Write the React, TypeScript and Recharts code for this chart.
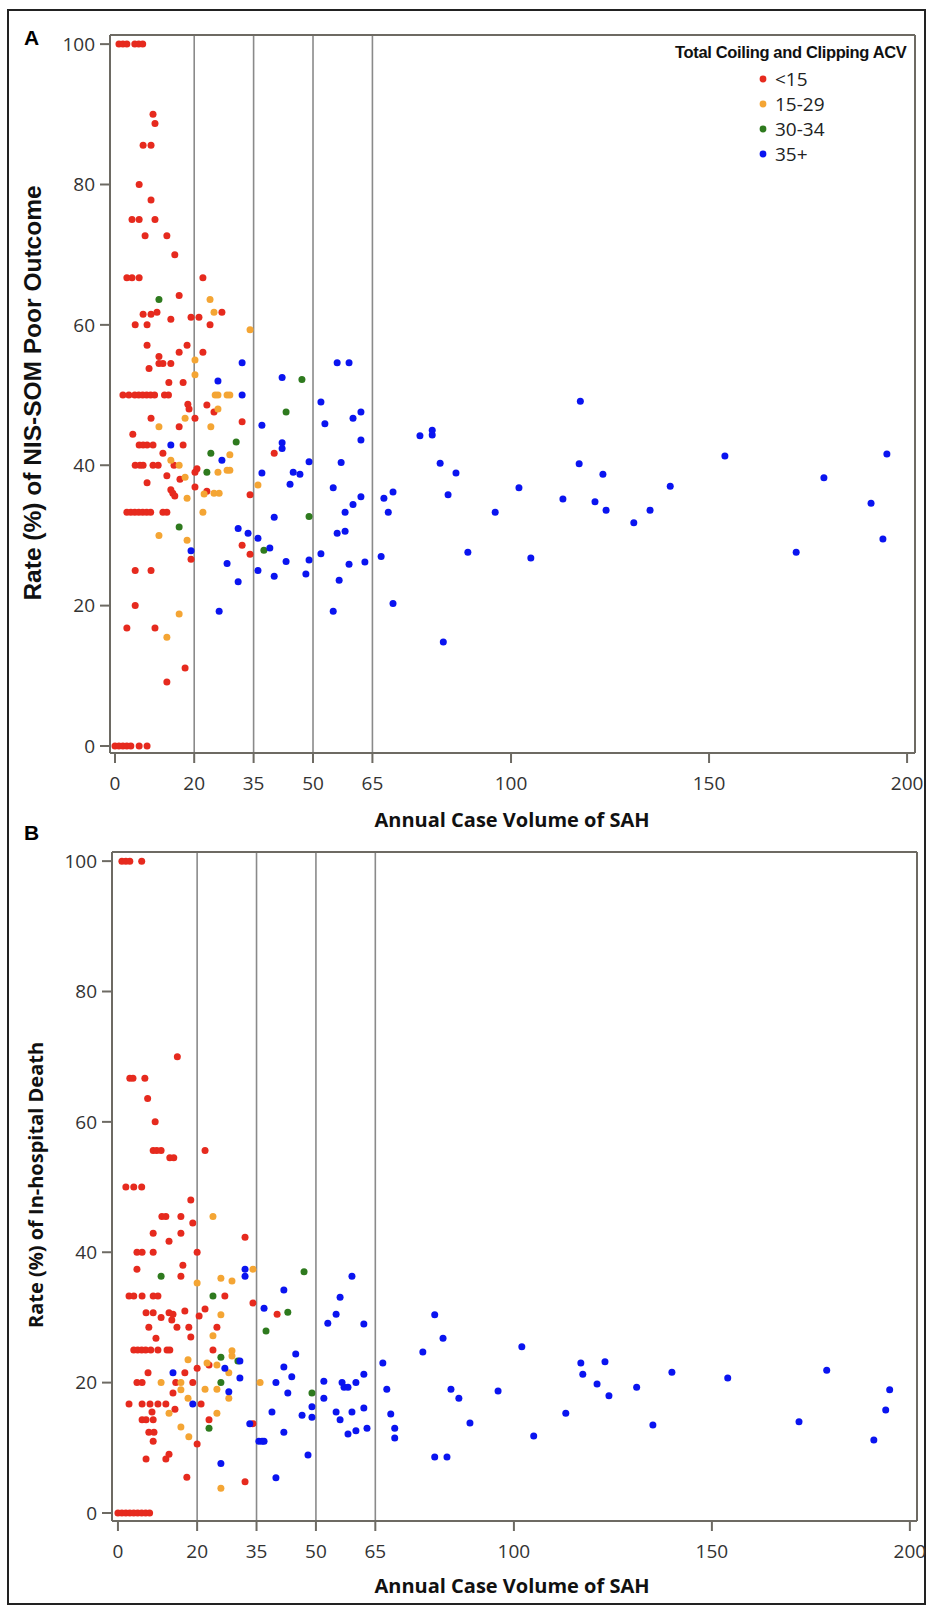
import { ScatterChart, Scatter, XAxis, YAxis, ReferenceLine } from 'recharts';

type Pt = [number, number];

const groupLabels = ['<15', '15-29', '30-34', '35+'];
const groupColors = ['#e62a1e', '#f4a534', '#2e7a1e', '#0a14f0'];
const xTicks = [0, 20, 35, 50, 65, 100, 150, 200];
const yTicks = [0, 20, 40, 60, 80, 100];
const cutoffs = [20, 35, 50, 65];

// Panel A: rate (%) of NIS-SOM poor outcome
const poorLt15: Pt[] = [
  [1, 100], [2, 100], [3, 100], [5, 100], [6, 100], [7, 100],
  [9.6, 90], [10.1, 88.7], [7.1, 85.6], [9.1, 85.6], [6.1, 80], [9.1, 77.8], [4.3, 75], [6.1, 75], [10.1, 75],
  [7.6, 72.7], [13.1, 72.7], [15.1, 70], [3, 66.7], [4.3, 66.7], [6.1, 66.7], [22.2, 66.7], [16.2, 64.2],
  [27, 61.8], [7.1, 61.5], [9.1, 61.5], [10.6, 61.8], [14.1, 60.8], [19.2, 61.1], [21.2, 61.1], [5.1, 60], [8.1, 60], [24, 60],
  [8.1, 57.1], [16.2, 56.1], [18.2, 57.1], [22.2, 56.1], [11.1, 55.5], [11.1, 54.5], [12.1, 54.5], [14.1, 54.5], [8.6, 53.8],
  [13.6, 51.8], [17.2, 51.8],
  [2, 50], [3.5, 50], [5, 50], [6, 50], [7, 50], [8, 50], [9, 50], [10, 50], [12.5, 50], [13.5, 50],
  [18.4, 48.7], [18.7, 48], [23.2, 48.6], [25, 47.6], [9.1, 46.7], [20.2, 46.7], [16.2, 45.5], [32.1, 46.2], [4.5, 44.4],
  [6.1, 42.9], [7.1, 42.9], [8.1, 42.9], [9.6, 42.9], [17.2, 42.9], [12.1, 41.7], [40.2, 41.7],
  [5.1, 40], [6.3, 40], [7.1, 40], [9.6, 40], [10.9, 40], [14.9, 40], [20.2, 39], [20.7, 39.5], [13.1, 38.5], [8.1, 37.5],
  [16.4, 38], [14.1, 36.5], [14.6, 36], [15.1, 35.6], [20.2, 36.9], [23.2, 36.3], [34.1, 35.8],
  [3, 33.3], [4, 33.3], [5, 33.3], [6, 33.3], [7, 33.3], [8, 33.3], [9, 33.3], [12.1, 33.3], [13.1, 33.3],
  [32.1, 28.6], [34.1, 27.3], [19.2, 26.6], [5.1, 25], [9.1, 25], [5.1, 20], [3, 16.8], [10.1, 16.8], [17.7, 11.1], [13.1, 9.1],
  [0, 0], [1, 0], [2, 0], [3, 0], [4, 0], [6.1, 0], [8.1, 0],
];
const poor15to29: Pt[] = [
  [24, 63.6], [25, 61.8], [34.1, 59.3], [20.2, 55], [20.2, 52.9], [25.3, 50], [26, 50], [28.3, 50], [29, 50], [26, 48],
  [17.7, 46.7], [11.1, 45.5], [24.2, 45.5], [29, 41.5], [14.1, 40.7], [16.2, 40], [26, 39], [28.3, 39.3], [29, 39.3],
  [17.7, 38.3], [36.1, 37.2], [22.5, 35.9], [25, 36], [26.3, 36], [18.2, 35.3], [22.2, 33.3], [11.1, 30], [18.2, 29.3],
  [16.2, 18.8], [13.1, 15.5],
];
const poor30to34: Pt[] = [
  [11.1, 63.6], [47.2, 52.2], [43.2, 47.6], [30.6, 43.3], [24.2, 41.7], [23.2, 39], [16.2, 31.2], [37.6, 27.9], [49, 32.7],
];
const poor35plus: Pt[] = [
  [32.1, 54.6], [56.1, 54.6], [59.1, 54.6], [26, 52], [42.2, 52.5], [32.1, 50], [52, 49], [62.1, 47.6], [60.1, 46.7],
  [37.1, 45.7], [53, 45.9], [14.1, 42.9], [42.2, 43.2], [42.2, 42.4], [62.1, 43.6], [27, 40.7], [49, 40.5], [57.1, 40.4],
  [37.1, 38.9], [45, 39], [46.7, 38.7], [44.2, 37.3], [55.1, 36.8], [62.1, 35.5], [60.1, 34.4], [58.1, 33.3], [67.9, 35.3],
  [70.2, 36.2], [69, 33.3], [40.2, 32.6], [31.1, 31], [33.6, 30.3], [36.1, 29.6], [56.1, 30.3], [58.1, 30.6], [19.2, 27.8],
  [39.1, 28.2], [52, 27.4], [28.3, 26], [36.1, 25], [40.2, 24.2], [43.2, 26.3], [48.2, 24.5], [49, 26.5], [56.6, 23.6],
  [59.1, 25.9], [63.1, 26.2], [67.2, 27], [31.1, 23.4], [26.3, 19.2], [55.1, 19.2], [70.2, 20.3],
  [77, 44.2], [80.1, 45], [80.1, 44.3], [82.1, 40.3], [84.1, 35.8], [86.1, 38.9], [82.9, 14.8], [89.1, 27.6], [96, 33.3],
  [102, 36.8], [105, 26.8], [113.1, 35.2], [117.5, 49.1], [117.2, 40.2], [121.2, 34.8], [123.2, 38.7], [124, 33.6],
  [131, 31.8], [135.1, 33.6], [140.2, 37], [154, 41.3], [172, 27.6], [179, 38.2], [190.9, 34.6], [193.9, 29.5], [194.9, 41.6],
];

// Panel B: rate (%) of in-hospital death
const deathLt15: Pt[] = [
  [1, 100], [2, 100], [3, 100], [6, 100],
  [15, 70], [3, 66.7], [3.8, 66.7], [6.8, 66.7], [7.5, 63.6], [9.4, 60], [8.9, 55.6], [9.8, 55.6], [10.9, 55.6],
  [13.1, 54.5], [14.1, 54.5], [22, 55.6], [2, 50], [4, 50], [6, 50], [18.4, 48], [11.1, 45.5], [12.1, 45.5], [15.9, 45.5],
  [18.9, 44.5], [8.9, 42.9], [15.9, 42.9], [12.9, 41.7], [32.1, 42.3], [4.8, 40], [6.1, 40], [8.9, 40], [20, 40],
  [4.8, 37.4], [16.4, 38], [15.9, 36.3],
  [2.8, 33.3], [4, 33.3], [6.1, 33.3], [8.9, 33.3], [10.1, 33.3], [27, 33.3], [34.1, 32.2], [40.2, 30.5], [7.1, 30.7],
  [8.9, 30.7], [12.9, 30.7], [13.9, 30.5], [13.6, 29.6], [10.9, 30], [16.9, 31], [20.5, 30.2], [22, 31.3], [7.8, 28.5],
  [14.9, 28.5], [17.9, 28.5], [25, 28.5], [9.6, 26.8], [18.4, 27],
  [4, 25], [5, 25], [6, 25], [7, 25], [8.3, 25], [10.1, 25], [12.4, 25], [13.1, 25], [24, 25], [23, 22.7], [7.6, 21.5],
  [16.9, 21.5], [20, 22.2], [4.8, 20], [6.1, 20], [14.6, 20], [18.9, 20], [13.9, 18.4],
  [2.8, 16.7], [6.1, 16.7], [8.1, 16.7], [10.1, 16.7], [12.1, 16.7], [21, 16.7], [8.6, 15.5], [14.4, 15.9], [6.1, 14.3],
  [7.1, 14.3], [8.9, 14.3], [23, 14.3], [7.8, 12.4], [9.1, 12.4], [8.9, 11], [34.1, 13.7], [20, 10.6], [7.1, 8.3],
  [12.1, 8.3], [12.9, 9], [17.4, 5.5], [32.1, 4.8],
  [0, 0], [1, 0], [2, 0], [3, 0], [4, 0], [5, 0], [6, 0], [7, 0], [8, 0],
];
const death15to29: Pt[] = [
  [24, 45.5], [34.1, 37.4], [20, 35.3], [26, 36], [28.8, 35.6], [26, 30.4], [24, 27.2], [28.8, 24.9], [28.8, 24.1],
  [17.7, 23.5], [22.5, 23], [25, 22.7], [28, 21.5], [10.9, 20], [15.9, 20], [15.9, 18.9], [22, 19], [25, 19], [28, 17.6],
  [35.9, 20], [17.7, 17.6], [12.9, 15.3], [25, 15.3], [15.9, 13.2], [17.9, 11.7], [26, 3.8],
];
const death30to34: Pt[] = [
  [10.9, 36.3], [47, 37], [24, 33.3], [42.9, 30.8], [37.4, 27.9], [26, 23.9], [30.3, 23.3], [26, 20], [49, 18.4], [23, 13],
];
const death35plus: Pt[] = [
  [32.1, 37.4], [32.1, 36.3], [59.1, 36.3], [41.9, 34.2], [56.1, 33.1], [36.9, 31.4], [55.1, 30.5], [53, 29.1], [62.1, 29],
  [27, 22.2], [30.8, 23.3], [30.8, 20.7], [13.9, 21.5], [28, 18.6], [39.9, 20], [42.9, 18.4], [41.9, 22.4], [43.9, 20.9],
  [44.9, 24.4], [52, 20.2], [52, 17.6], [56.6, 20], [57.1, 19.3], [58.1, 19.3], [60.1, 20], [62.1, 21.3], [66.9, 23],
  [67.9, 19], [68.9, 15.2], [69.9, 13], [69.9, 11.5], [18.9, 16.7], [33.3, 13.7], [35.6, 11], [36.4, 11], [36.9, 11],
  [38.9, 15.5], [41.9, 12.4], [46.5, 15], [49, 16.3], [49, 14.7], [48, 8.9], [55.1, 15.5], [56.1, 14.3], [59.1, 15.5],
  [62.1, 16.1], [58.1, 12.1], [60.1, 12.6], [62.9, 13], [26, 7.6], [39.9, 5.4],
  [77, 24.7], [80, 30.4], [82.1, 26.8], [84.1, 19], [86.1, 17.6], [80, 8.6], [83.1, 8.6], [88.9, 13.8], [96, 18.7],
  [102, 25.5], [105, 11.8], [113.1, 15.3], [116.9, 23], [117.4, 21.3], [121, 19.8], [123, 23.2], [124, 18], [131, 19.3],
  [135.1, 13.5], [139.9, 21.6], [154, 20.7], [172, 14], [179, 21.9], [190.9, 11.2], [193.9, 15.8], [194.9, 18.9],
];

const FRAME = '#6d6a63';
const tickFont = { fill: '#333', fontSize: 19, fontFamily: '"Open Sans", sans-serif' };

type PanelProps = {
  series: Pt[][];
  width: number;
  height: number;
  margin: { top: number; right: number; bottom: number; left: number };
  xDomain: [number, number];
  yDomain: [number, number];
};

function Panel({ series, width, height, margin, xDomain, yDomain }: PanelProps) {
  return (
    <ScatterChart width={width} height={height} margin={margin}>
      <XAxis
        type="number"
        dataKey="x"
        domain={xDomain}
        allowDataOverflow
        ticks={xTicks}
        interval={0}
        height={40}
        tickSize={10}
        tickMargin={14}
        stroke={FRAME}
        strokeWidth={2}
        tick={tickFont}
      />
      <YAxis
        type="number"
        dataKey="y"
        domain={yDomain}
        allowDataOverflow
        ticks={yTicks}
        interval={0}
        width={60}
        tickSize={10}
        tickMargin={5}
        stroke={FRAME}
        strokeWidth={2}
        tick={tickFont}
      />
      {cutoffs.map((c) => (
        <ReferenceLine key={c} x={c} stroke="#8a8a8a" strokeWidth={1.6} />
      ))}
      <ReferenceLine x={xDomain[1]} stroke={FRAME} strokeWidth={2} />
      <ReferenceLine y={yDomain[1]} stroke={FRAME} strokeWidth={2} />
      {series.map((pts, i) => (
        <Scatter
          key={groupLabels[i]}
          name={groupLabels[i]}
          data={pts.map(([x, y]) => ({ x, y }))}
          isAnimationActive={false}
          shape={(p: any) => <circle cx={p.cx} cy={p.cy} r={3.5} fill={groupColors[i]} />}
        />
      ))}
    </ScatterChart>
  );
}

const abs = (left: number, top: number): React.CSSProperties => ({ position: 'absolute', left, top });

function YTitle({ x, y, text, font }: { x: number; y: number; text: string; font: React.CSSProperties }) {
  return (
    <div
      style={{
        ...abs(x, y),
        transform: 'translate(-50%, -50%) rotate(-90deg)',
        whiteSpace: 'nowrap',
        fontWeight: 700,
        color: '#111',
        ...font,
      }}
    >
      {text}
    </div>
  );
}

function XTitle({ x, y, text }: { x: number; y: number; text: string }) {
  return (
    <div
      style={{
        ...abs(x, y),
        transform: 'translate(-50%, -50%)',
        whiteSpace: 'nowrap',
        fontWeight: 700,
        fontSize: 20,
        fontFamily: '"Open Sans", sans-serif',
        color: '#111',
      }}
    >
      {text}
    </div>
  );
}

export default function App() {
  return (
    <div style={{ position: 'absolute', left: 0, top: 0, width: 928, height: 1608, background: '#fff', overflow: 'hidden' }}>
      <div style={{ ...abs(7, 9), width: 915, height: 1592, border: '2px solid #222' }} />

      <div style={abs(0, 0)}>
        <Panel
          series={[poorLt15, poor15to29, poor30to34, poor35plus]}
          width={928}
          height={850}
          margin={{ top: 35, right: 13, bottom: 57, left: 50 }}
          xDomain={[-1.26, 202]}
          yDomain={[-1, 101.3]}
        />
      </div>
      <div style={abs(0, 820)}>
        <Panel
          series={[deathLt15, death15to29, death30to34, death35plus]}
          width={928}
          height={788}
          margin={{ top: 32, right: 11, bottom: 47, left: 52 }}
          xDomain={[-1.5, 201.8]}
          yDomain={[-1.23, 101.4]}
        />
      </div>

      <div style={{ ...abs(24, 26), fontWeight: 700, fontSize: 21, fontFamily: '"Liberation Sans", Arial, sans-serif' }}>A</div>
      <div style={{ ...abs(24, 821), fontWeight: 700, fontSize: 21, fontFamily: '"Liberation Sans", Arial, sans-serif' }}>B</div>

      <YTitle x={33} y={393} text="Rate (%) of NIS-SOM Poor Outcome" font={{ fontSize: 24.5, fontFamily: '"Liberation Sans", Arial, sans-serif' }} />
      <YTitle x={35} y={1185} text="Rate (%) of In-hospital Death" font={{ fontSize: 20, fontFamily: '"Open Sans", sans-serif' }} />
      <XTitle x={512} y={819} text="Annual Case Volume of SAH" />
      <XTitle x={512} y={1585} text="Annual Case Volume of SAH" />

      <div
        style={{
          ...abs(675, 43),
          width: 245,
          whiteSpace: 'nowrap',
          fontWeight: 700,
          fontSize: 16.5,
          letterSpacing: -0.35,
          fontFamily: '"Liberation Sans", Arial, sans-serif',
          color: '#111',
        }}
      >
        Total Coiling and Clipping ACV
      </div>
      <svg style={abs(750, 66)} width={120} height={100}>
        {groupLabels.map((g, i) => (
          <g key={g}>
            <circle cx={13} cy={13 + i * 25} r={3.4} fill={groupColors[i]} />
            <text x={25} y={20 + i * 25} fontSize={19} fontFamily='"Open Sans", sans-serif' fill="#222">
              {g}
            </text>
          </g>
        ))}
      </svg>
    </div>
  );
}
